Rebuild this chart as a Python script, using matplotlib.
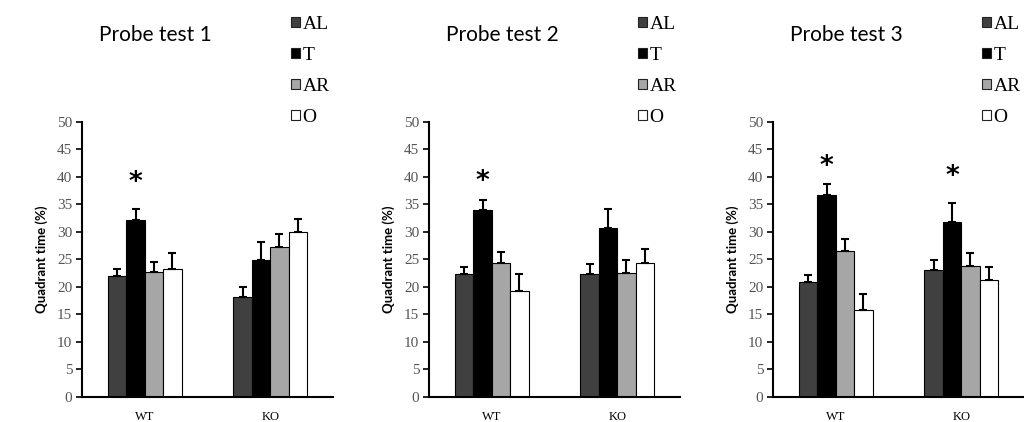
import numpy as np
import matplotlib
matplotlib.use("Agg")
import matplotlib.pyplot as plt
from matplotlib.patches import Patch

# data
groups = ["WT", "KO"]
quadrants = ["AL", "T", "AR", "O"]
colors = ["#404040", "#000000", "#a6a6a6", "#ffffff"]

titles = ["Probe test 1", "Probe test 2", "Probe test 3"]

# mean per quadrant, rows = WT, KO
test1_mean = [[22.0, 32.2, 22.6, 23.2], [18.1, 24.8, 27.2, 29.9]]
test1_err = [[1.3, 1.9, 1.9, 2.9], [1.8, 3.3, 2.3, 2.5]]
test2_mean = [[22.3, 33.9, 24.4, 19.3], [22.3, 30.7, 22.5, 24.4]]
test2_err = [[1.3, 1.9, 2.0, 3.0], [1.8, 3.4, 2.4, 2.4]]
test3_mean = [[20.8, 36.7, 26.5, 15.8], [23.0, 31.8, 23.8, 21.2]]
test3_err = [[1.4, 2.0, 2.1, 2.9], [1.8, 3.5, 2.4, 2.4]]

# significance stars: (panel, group, top of star)
stars = [(0, 0, 41.2), (1, 0, 41.4), (2, 0, 44.2), (2, 1, 42.4)]

means = [test1_mean, test2_mean, test3_mean]
errs = [test1_err, test2_err, test3_err]

W, H = 1024, 422
fig = plt.figure(figsize=(W / 100, H / 100), dpi=100)

lefts = [82, 429, 773]
ax_w, ax_top, ax_bot = 251, 121.7, 396.7
bar_w = 0.1474
serif = "Liberation Serif"

axes = []
for k in range(3):
    ax = fig.add_axes([lefts[k] / W, 1 - ax_bot / H, ax_w / W, (ax_bot - ax_top) / H])
    axes.append(ax)
    m = np.array(means[k])
    e = np.array(errs[k])
    x = np.arange(len(groups))
    for j, q in enumerate(quadrants):
        xpos = x + (j - 1.5) * bar_w
        ax.bar(xpos, m[:, j], width=bar_w, color=colors[j], edgecolor="black",
               linewidth=0.8, zorder=2)
        ax.errorbar(xpos, m[:, j], yerr=[np.zeros(len(groups)), e[:, j]],
                    fmt="none", ecolor="black", elinewidth=1.5, capsize=3,
                    capthick=1.5, zorder=3)
    ax.set_xlim(-0.5, 1.5)
    ax.set_ylim(0, 50)
    ax.set_yticks(np.arange(0, 51, 5))
    ax.set_xticks(x)
    ax.set_xticklabels(groups, fontfamily=serif, fontsize=9)
    for lab in ax.get_yticklabels():
        lab.set_fontfamily(serif)
        lab.set_fontsize(11)
        lab.set_color("#555555")
    ax.tick_params(axis="x", length=0, pad=10)
    ax.tick_params(axis="y", direction="out", length=4, width=1.2, pad=3)
    for s in ["top", "right"]:
        ax.spines[s].set_visible(False)
    for s in ["left", "bottom"]:
        ax.spines[s].set_linewidth(1.5)
    ax.set_ylabel("Quadrant time (%)", fontfamily="Lato", fontsize=9.5,
                  fontweight="bold")
    ax.yaxis.set_label_coords(-34 / ax_w, 0.5)

    fig.text((lefts[k] + 73) / W, 1 - 35 / H, titles[k], fontfamily="Lato",
             fontsize=15, ha="center", va="center")

    handles = [Patch(facecolor=c, edgecolor="#222222", linewidth=0.8) for c in colors]
    ax.legend(handles, quadrants, loc="upper left",
              bbox_to_anchor=((lefts[k] + 209) / W, 1 - 16 / H),
              bbox_transform=fig.transFigure, frameon=False,
              prop={"family": serif, "size": 14},
              handlelength=0.45, handleheight=0.45, handletextpad=0.15,
              labelspacing=0.72, borderpad=0, borderaxespad=0)

for k, g, y in stars:
    axes[k].text(g - 0.5 * bar_w, y, "*", ha="center", va="top",
                 fontsize=19, fontweight="bold", fontfamily="DejaVu Sans")

fig.savefig("out.png", dpi=100)
